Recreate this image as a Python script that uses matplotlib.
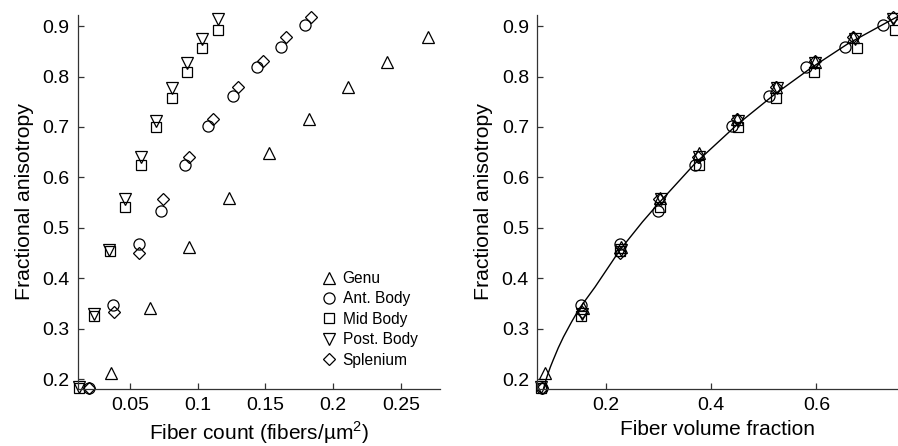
import numpy as np
import matplotlib
matplotlib.use('Agg')
import matplotlib.pyplot as plt

plt.rcParams['font.family'] = ['Liberation Sans', 'DejaVu Sans']
plt.rcParams['mathtext.fontset'] = 'custom'
plt.rcParams['mathtext.rm'] = 'Liberation Sans'

# fiber count (fibers/um^2) vs FA
genu_cnt = [0.036, 0.0648, 0.0938, 0.1228, 0.1528, 0.182, 0.2114, 0.2401, 0.2701]
genu_fa = [0.212, 0.341, 0.463, 0.560, 0.648, 0.715, 0.779, 0.829, 0.878]

ant_cnt = [0.020, 0.0377, 0.0569, 0.0729, 0.0908, 0.108, 0.1258, 0.1435, 0.1612, 0.1794]
ant_fa = [0.182, 0.347, 0.469, 0.534, 0.625, 0.701, 0.762, 0.818, 0.859, 0.902]

mid_cnt = [0.0121, 0.0234, 0.0352, 0.0466, 0.0581, 0.0694, 0.0808, 0.0921, 0.1031, 0.1149]
mid_fa = [0.182, 0.325, 0.455, 0.541, 0.625, 0.700, 0.757, 0.808, 0.857, 0.892]

post_cnt = [0.0125, 0.0234, 0.0348, 0.0466, 0.0581, 0.0694, 0.0808, 0.0921, 0.1031, 0.1149]
post_fa = [0.185, 0.330, 0.456, 0.557, 0.640, 0.711, 0.777, 0.827, 0.874, 0.913]

spl_cnt = [0.0195, 0.0384, 0.0569, 0.0746, 0.0933, 0.1115, 0.1297, 0.1479, 0.1656, 0.1838]
spl_fa = [0.182, 0.334, 0.450, 0.557, 0.641, 0.716, 0.779, 0.831, 0.878, 0.917]

# fiber volume fraction for the same points
genu_vf = [0.085, 0.158, 0.230, 0.303, 0.377, 0.450, 0.523, 0.597, 0.670]
ant_vf = [0.080, 0.153, 0.227, 0.300, 0.369, 0.439, 0.511, 0.580, 0.655, 0.726]
mid_vf = [0.077, 0.154, 0.228, 0.303, 0.377, 0.452, 0.524, 0.596, 0.677, 0.749]
post_vf = [0.078, 0.155, 0.230, 0.305, 0.377, 0.452, 0.525, 0.598, 0.673, 0.745]
spl_vf = [0.080, 0.155, 0.228, 0.302, 0.376, 0.450, 0.523, 0.597, 0.670, 0.745]

# fitted curve
fit_vf = [0.082, 0.088, 0.095, 0.10, 0.11, 0.12, 0.135, 0.15, 0.18, 0.227, 0.27, 0.30,
          0.37, 0.45, 0.52, 0.59, 0.66, 0.73, 0.76]
fit_fa = [0.181, 0.203, 0.224, 0.237, 0.262, 0.284, 0.313, 0.340, 0.383, 0.456, 0.512, 0.548,
          0.628, 0.705, 0.764, 0.817, 0.865, 0.905, 0.922]

series = [
    ('Genu', '^', 9, genu_cnt, genu_vf, genu_fa),
    ('Ant. Body', 'o', 8, ant_cnt, ant_vf, ant_fa),
    ('Mid Body', 's', 7, mid_cnt, mid_vf, mid_fa),
    ('Post. Body', 'v', 9, post_cnt, post_vf, post_fa),
    ('Splenium', 'D', 6.2, spl_cnt, spl_vf, spl_fa),
]

fig = plt.figure(figsize=(8.98, 4.46), dpi=100)
ax1 = fig.add_axes([0.0865, 0.128, 0.4035, 0.8385])
ax2 = fig.add_axes([0.5983, 0.128, 0.4017, 0.8385])

for name, m, ms, cnt, vf, fa in series:
    ax1.plot(cnt, fa, linestyle='none', marker=m, markersize=ms, markerfacecolor='none',
             markeredgecolor='black', markeredgewidth=0.9, label=name, clip_on=False)
    ax2.plot(vf, fa, linestyle='none', marker=m, markersize=ms, markerfacecolor='none',
             markeredgecolor='black', markeredgewidth=0.9, clip_on=False)

ax2.plot(fit_vf, fit_fa, color='black', linewidth=1.0)

ax1.set_xlim(0.0114, 0.279)
ax2.set_xlim(0.0703, 0.755)
for ax in (ax1, ax2):
    ax.set_ylim(0.181, 0.922)
    ax.set_yticks([0.2, 0.3, 0.4, 0.5, 0.6, 0.7, 0.8, 0.9])
    ax.spines['top'].set_visible(False)
    ax.spines['right'].set_visible(False)
    for s in ('left', 'bottom'):
        ax.spines[s].set_color('#333333')
        ax.spines[s].set_linewidth(0.9)
    ax.tick_params(direction='in', length=4, width=0.9, labelsize=14, pad=6, color='#333333')
    ax.set_ylabel('Fractional anisotropy', fontsize=15.3, labelpad=6)

ax1.set_xticks([0.05, 0.1, 0.15, 0.2, 0.25])
ax1.set_xticklabels(['0.05', '0.1', '0.15', '0.2', '0.25'])
ax2.set_xticks([0.2, 0.4, 0.6])
ax1.set_xlabel('Fiber count (fibers/µm$^2$)', fontsize=15, labelpad=4)
ax2.set_xlabel('Fiber volume fraction', fontsize=15, labelpad=4)

ax1.legend(loc='lower right', bbox_to_anchor=(0.955, 0.04), frameon=False, fontsize=11.2,
           handletextpad=0.25, labelspacing=0.35, handlelength=1.2, borderaxespad=0)

fig.savefig('out.png', dpi=100)
